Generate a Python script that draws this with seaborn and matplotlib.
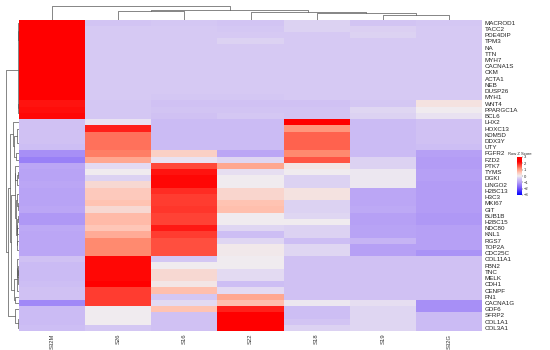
import numpy as np
import pandas as pd
import matplotlib
matplotlib.use("Agg")
import matplotlib.pyplot as plt
import seaborn as sns
from matplotlib.colors import LinearSegmentedColormap

genes = ["MACROD1", "TACC2", "PDE4DIP", "TPM3", "NA", "TTN", "MYH7", "CACNA1S",
         "CKM", "ACTA1", "NEB", "DUSP26", "MYH1", "WNT4", "PPARGC1A", "BCL6",
         "LHX2", "HOXC13", "KDM5D", "DDX3Y", "UTY", "FGFR2", "FZD2", "PTK7",
         "TYMS", "DGKI", "LINGO2", "H2BC13", "H3C3", "MKI67", "GIT", "BUB1B",
         "H2BC15", "NDC80", "KNL1", "RGS7", "TOP2A", "CDC25C", "COL11A1", "FBN2",
         "TNC", "MELK", "CDH1", "CENPF", "FN1", "CACNA1G", "GDF6", "SFRP2",
         "COL1A1", "COL3A1"]
samples = ["S32M", "S26", "S16", "S22", "S18", "S19", "S32G"]

# row z-scores, one list per sample (rows in gene order)
S32M = [2.26, 2.26, 2.26, 2.26, 2.26, 2.26, 2.26, 2.26, 2.26, 2.26, 2.26, 2.26, 2.26, 2.10, 2.15, 2.20,
        -0.50, -0.50, -0.50, -0.50, -0.55, -1.20, -1.40, -0.90, -0.95, -0.95, -0.90, -0.95, -0.95, -0.95,
        -0.90, -1.10, -1.10, -0.85, -0.90, -0.90, -0.90, -0.90, -0.50, -0.60, -0.60, -0.60, -0.55, -0.50,
        -0.50, -1.30, -0.60, -0.60, -0.60, -0.55]
S26 = [-0.45, -0.38, -0.38, -0.38, -0.38, -0.38, -0.38, -0.38, -0.38, -0.38, -0.38, -0.38, -0.38, -0.40, -0.40, -0.40,
       -0.10, 2.00, 1.40, 1.40, 1.40, 1.30, 0.90, -0.20, 0.00, -0.30, 0.30, 0.50, 0.50, 0.60,
       0.30, 0.70, 0.70, 0.55, 0.85, 1.20, 1.20, 1.20, 2.20, 2.20, 2.20, 2.20, 2.25, 1.80,
       1.80, 1.80, 0.00, 0.00, 0.00, -0.40]
S16 = [-0.40, -0.38, -0.38, -0.38, -0.38, -0.38, -0.38, -0.38, -0.38, -0.38, -0.38, -0.38, -0.40, -0.50, -0.45, -0.50,
       -0.60, -0.60, -0.60, -0.60, -0.60, 0.40, -0.10, 1.70, 2.10, 2.20, 2.20, 1.90, 1.80, 1.80,
       1.85, 1.75, 1.75, 2.05, 1.80, 1.65, 1.65, 1.65, -0.40, 0.00, 0.30, 0.30, 0.10, 0.65,
       -0.40, -0.20, 0.60, -0.50, -0.50, -0.50]
S22 = [-0.45, -0.40, -0.38, -0.30, -0.38, -0.38, -0.38, -0.38, -0.38, -0.38, -0.38, -0.38, -0.40, -0.50, -0.45, -0.40,
       -0.60, -0.60, -0.60, -0.60, -0.60, -0.90, -0.25, 0.90, -0.15, 0.00, 0.00, 0.35, 0.35, 0.60,
       0.65, 0.00, 0.00, -0.25, -0.55, -0.25, 0.05, 0.05, 0.00, 0.00, -0.20, -0.20, -0.55, -0.20,
       0.90, 0.65, 2.00, 2.25, 2.25, 2.25]
S18 = [-0.30, -0.30, -0.38, -0.38, -0.38, -0.38, -0.38, -0.38, -0.38, -0.38, -0.38, -0.38, -0.38, -0.50, -0.45, -0.45,
       2.25, 1.10, 1.50, 1.50, 1.50, 1.20, 1.60, 0.10, 0.00, -0.30, -0.30, 0.15, 0.15, -0.30,
       -0.30, -0.25, 0.00, -0.30, -0.30, -0.55, -0.25, -0.25, -0.50, -0.50, -0.50, -0.50, -0.50, -0.50,
       -0.50, -0.05, -0.55, -0.55, -0.45, -0.30]
S19 = [-0.45, -0.32, -0.30, -0.38, -0.38, -0.38, -0.38, -0.38, -0.38, -0.38, -0.38, -0.38, -0.38, -0.40, -0.25, -0.30,
       -0.60, -0.60, -0.60, -0.60, -0.60, -0.60, -0.30, -0.30, -0.05, -0.05, -0.05, -0.90, -0.90, -0.90,
       -0.85, -1.00, -1.00, -0.95, -0.95, -0.70, -1.00, -1.00, -0.50, -0.50, -0.50, -0.50, -0.50, -0.50,
       -0.50, -0.15, -0.25, -0.25, -0.25, -0.25]
S32G = [-0.40, -0.38, -0.38, -0.38, -0.38, -0.38, -0.38, -0.38, -0.38, -0.38, -0.38, -0.38, -0.38, 0.15, 0.00, -0.10,
        -0.50, -0.50, -0.50, -0.50, -0.55, -1.00, -1.05, -1.05, -1.00, -1.00, -1.05, -1.05, -1.05, -1.05,
        -1.05, -1.10, -1.10, -1.00, -1.00, -1.00, -1.00, -1.15, -0.50, -0.50, -0.50, -0.50, -0.50, -0.50,
        -0.50, -1.20, -1.20, -0.60, -0.60, -0.60]

# column tree: (left node, right node, height in px)
col_merges = [(5, 6, 4.5), (4, 7, 6.5), (3, 8, 7.3), (1, 2, 8.5), (10, 9, 9.7), (0, 11, 14.0)]

df = pd.DataFrame({"S32M": S32M, "S26": S26, "S16": S16, "S22": S22,
                   "S18": S18, "S19": S19, "S32G": S32G}, index=genes)[samples]

cmap = LinearSegmentedColormap.from_list("zscore", [
    (0.0, (0.0, 0.0, 1.0)),
    ((-2 + 3) / 6, (110 / 255, 80 / 255, 250 / 255)),
    ((-1 + 3) / 6, (182 / 255, 160 / 255, 245 / 255)),
    ((-0.4 + 3) / 6, (213 / 255, 200 / 255, 243 / 255)),
    ((0 + 3) / 6, (240 / 255, 236 / 255, 240 / 255)),
    ((0.6 + 3) / 6, (255 / 255, 195 / 255, 178 / 255)),
    ((1.2 + 3) / 6, (255 / 255, 140 / 255, 112 / 255)),
    ((2.25 + 3) / 6, (1.0, 0.0, 0.0)),
    (1.0, (1.0, 0.0, 0.0)),
])


def contiguous_linkage(mat):
    # average linkage, merging only neighbouring clusters so the row order is kept
    n = len(mat)
    clusters = [[i] for i in range(n)]
    ids = list(range(n))
    pos = {i: i + 0.5 for i in range(n)}
    hgt = {i: 0.0 for i in range(n)}
    merges = []
    nid = n
    while len(clusters) > 1:
        best = None
        for k in range(len(clusters) - 1):
            a = mat[clusters[k]]
            b = mat[clusters[k + 1]]
            d = np.linalg.norm(a[:, None, :] - b[None, :, :], axis=2).mean()
            if best is None or d < best[0]:
                best = (d, k)
        d, k = best
        l, r = ids[k], ids[k + 1]
        h = max(d, hgt[l], hgt[r])
        pos[nid] = (pos[l] + pos[r]) / 2
        hgt[nid] = h
        merges.append((l, r, h))
        clusters[k] = clusters[k] + clusters[k + 1]
        del clusters[k + 1]
        ids[k] = nid
        del ids[k + 1]
        nid += 1
    return merges, pos, hgt


sns.set_style("white")
plt.rcParams["font.family"] = ["Liberation Sans", "DejaVu Sans"]

W, H = 550, 350
fig = plt.figure(figsize=(5.5, 3.5), dpi=100)

def px_axes(x0, y0, x1, y1):
    return fig.add_axes([x0 / W, 1 - y1 / H, (x1 - x0) / W, (y1 - y0) / H])

ax = px_axes(19, 19.5, 482, 331)
cax = px_axes(517, 157, 522, 195)
ax_row = px_axes(2, 19.5, 19, 331)
ax_col = px_axes(19, 5, 482, 19.5)

sns.heatmap(df, ax=ax, cmap=cmap, vmin=-3, vmax=3, cbar_ax=cax,
            cbar_kws={"ticks": [-3, -2, -1, 0, 1, 2, 3]},
            xticklabels=samples, yticklabels=genes)
ax.yaxis.tick_right()
ax.set_yticklabels(genes, rotation=0)
ax.set_xticklabels(samples, rotation=90)
ax.tick_params(axis="y", length=0, labelsize=4.5, pad=2, labelcolor="#222222")
ax.tick_params(axis="x", length=0, labelsize=4.2, pad=2, labelcolor="#333333")
ax.set_xlabel("")
ax.set_ylabel("")

cax.tick_params(labelsize=3, length=1, width=0.3, pad=0.5)
cax.set_title("Row Z Score", fontsize=3, pad=1.5)
for s in cax.spines.values():
    s.set_visible(False)

# row dendrogram, leaves on the right
merges, pos, hgt = contiguous_linkage(df.values)
for l, r, h in merges:
    ax_row.plot([hgt[l], h, h, hgt[r]], [pos[l], pos[l], pos[r], pos[r]],
                color="#555555", lw=0.5)
root_h = merges[-1][2]
ax_row.set_xlim(root_h * 17 / 13, 0)
ax_row.set_ylim(len(genes), 0)
ax_row.axis("off")

# column dendrogram
cpos = {i: i + 0.5 for i in range(len(samples))}
chgt = {i: 0.0 for i in range(len(samples))}
nid = len(samples)
for l, r, h in col_merges:
    ax_col.plot([cpos[l], cpos[l], cpos[r], cpos[r]], [chgt[l], h, h, chgt[r]],
                color="#555555", lw=0.5)
    cpos[nid] = (cpos[l] + cpos[r]) / 2
    chgt[nid] = h
    nid += 1
ax_col.set_xlim(0, len(samples))
ax_col.set_ylim(0, 14.5)
ax_col.axis("off")

fig.savefig("out.png", dpi=100)
